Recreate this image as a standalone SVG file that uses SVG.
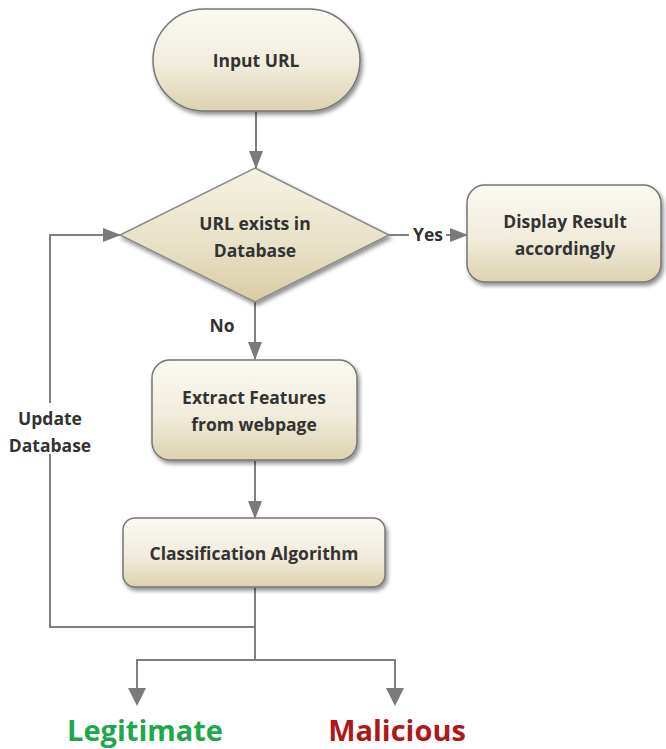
<svg xmlns="http://www.w3.org/2000/svg" width="666" height="749" viewBox="0 0 666 749">
<defs>
<linearGradient id="g" x1="0" y1="0" x2="0" y2="1">
<stop offset="0" stop-color="#fbf9f3"/>
<stop offset="0.55" stop-color="#f1ecdc"/>
<stop offset="1" stop-color="#ddd2b0"/>
</linearGradient>
<linearGradient id="gd" x1="0" y1="0" x2="0" y2="1">
<stop offset="0" stop-color="#f6f2e4"/>
<stop offset="0.6" stop-color="#e8e0c6"/>
<stop offset="1" stop-color="#d8cca4"/>
</linearGradient>
<filter id="sh" x="-10%" y="-10%" width="125%" height="130%">
<feGaussianBlur in="SourceAlpha" stdDeviation="2"/>
<feOffset dx="2" dy="3" result="b"/>
<feComponentTransfer><feFuncA type="linear" slope="0.45"/></feComponentTransfer>
<feMerge><feMergeNode/><feMergeNode in="SourceGraphic"/></feMerge>
</filter>
<marker id="ah" markerWidth="18" markerHeight="14" refX="17" refY="7" orient="auto" markerUnits="userSpaceOnUse">
<path d="M0,0 L18,7 L0,14 Z" fill="#7a7a7a"/>
</marker>
</defs>
<style>
.box{fill:url(#g);stroke:#767676;stroke-width:1.5;filter:url(#sh)}
.dia{fill:url(#gd);stroke:#8a8a8a;stroke-width:1.5;filter:url(#sh)}
.t{font-family:"Open Sans","Noto Sans",sans-serif;font-weight:bold;font-size:17.5px;fill:#333;text-anchor:middle}
.c{fill:none;stroke:#7f7f7f;stroke-width:2}
.big{font-family:"Open Sans","Noto Sans",sans-serif;font-weight:bold;font-size:29px;text-anchor:middle}
</style>
<g id="connectors">
<line class="c" x1="256" y1="112" x2="256" y2="168" marker-end="url(#ah)"/>
<line class="c" x1="389" y1="235" x2="409" y2="235"/>
<line class="c" x1="446" y1="235" x2="467" y2="235" marker-end="url(#ah)"/>
<line class="c" x1="255" y1="302" x2="255" y2="359" marker-end="url(#ah)"/>
<line class="c" x1="255" y1="461" x2="255" y2="518" marker-end="url(#ah)"/>
<polyline class="c" points="255,588 255,660"/>
<polyline class="c" points="255,627 50,627 50,454"/>
<polyline class="c" points="50,403 50,235 120,235" marker-end="url(#ah)"/>
<polyline class="c" points="137,690 137,660 395,660 395,690" stroke-width="3"/>
<path d="M128,688 L137,706 L146,688 Z" fill="#7a7a7a"/>
<path d="M386,688 L395,706 L404,688 Z" fill="#7a7a7a"/>
<text class="t" x="428" y="241">Yes</text>
<text class="t" x="222" y="332">No</text>
<text class="t" x="50" y="425">Update</text>
<text class="t" x="50" y="452">Database</text>
</g>
<g id="input-url">
<rect class="box" x="153" y="9" width="207" height="102" rx="51"/>
<text class="t" x="256" y="67">Input URL</text>
</g>
<g id="url-exists">
<polygon class="dia" points="255,168 389,235 255,302 120,235"/>
<text class="t" x="255" y="230">URL exists in</text>
<text class="t" x="255" y="257">Database</text>
</g>
<g id="display-result">
<rect class="box" x="467" y="185" width="194" height="97" rx="18"/>
<text class="t" x="565" y="228">Display Result</text>
<text class="t" x="565" y="255">accordingly</text>
</g>
<g id="extract-features">
<rect class="box" x="152" y="360" width="205" height="100" rx="18"/>
<text class="t" x="254" y="404">Extract Features</text>
<text class="t" x="254" y="431">from webpage</text>
</g>
<g id="classification">
<rect class="box" x="123" y="518" width="262" height="69" rx="12"/>
<text class="t" x="254" y="560">Classification Algorithm</text>
</g>
<g id="legitimate">
<text class="big" x="145" y="741" fill="#1ea84e">Legitimate</text>
</g>
<g id="malicious">
<text class="big" x="397" y="741" fill="#b01818">Malicious</text>
</g>
</svg>
